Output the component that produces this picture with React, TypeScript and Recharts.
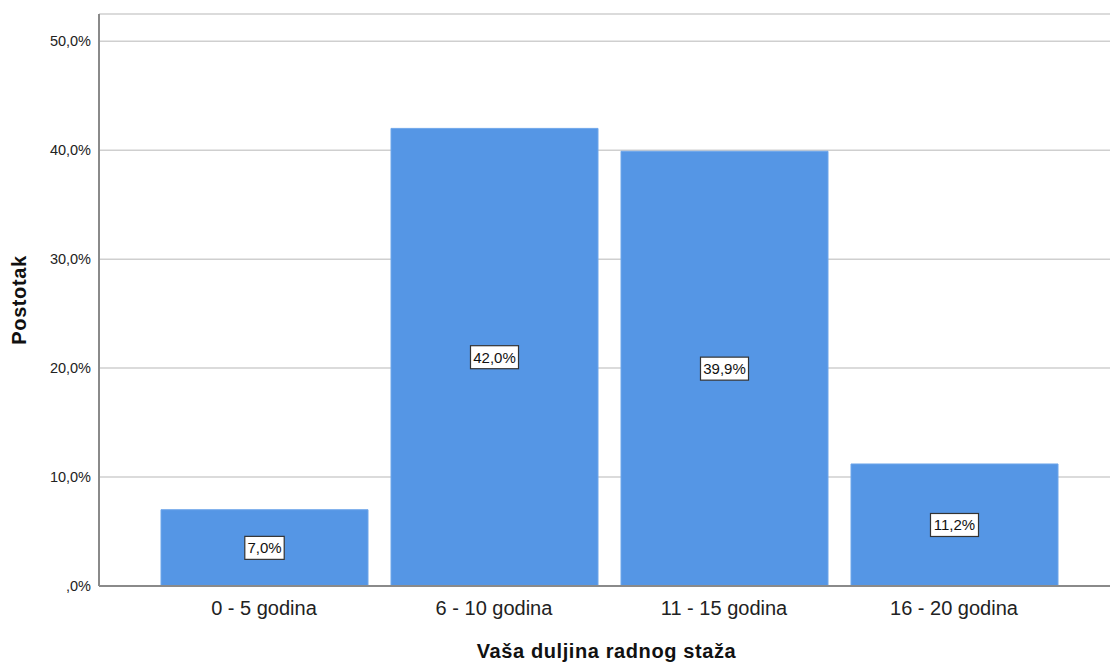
import React from 'react';
import { BarChart, Bar, XAxis, YAxis, CartesianGrid, LabelList } from 'recharts';

// category labels and percentages
const categories = ['0 - 5 godina', '6 - 10 godina', '11 - 15 godina', '16 - 20 godina'];
const percentages = [7.0, 42.0, 39.9, 11.2];
const yTicks = [0, 10, 20, 30, 40, 50];

const FONT = '"Liberation Sans", Arial, sans-serif';
const BAR_COLOR = '#5596e5';

const data = categories.map((name, i) => ({ name, value: percentages[i] }));

const formatPct = (v: number) => (v === 0 ? ',0%' : v.toFixed(1).replace('.', ',') + '%');

const ValueBox = (props: any) => {
    const { x, y, width, height, value } = props;
    const cx = x + width / 2;
    const cy = y + height / 2;
    const text = formatPct(value);
    const w = text.length * 8.6 + 5;
    return (
        <g>
            <rect x={cx - w / 2} y={cy - 11.5} width={w} height={23} fill="#ffffff" stroke="#333333" strokeWidth={1.2} />
            <text x={cx} y={cy + 5.5} textAnchor="middle" fontFamily={FONT} fontSize={15} fill="#111111">
                {text}
            </text>
        </g>
    );
};

const XTitle = (props: any) => {
    const vb = props.viewBox;
    return (
        <text x={vb.x + vb.width / 2 + 2} y={vb.y + 72} textAnchor="middle" fontFamily={FONT} fontSize={20}
            fontWeight="bold" letterSpacing={0.6} fill="#111111">
            Vaša duljina radnog staža
        </text>
    );
};

const YTitle = (props: any) => {
    const vb = props.viewBox;
    const cx = 26;
    const cy = vb.y + vb.height / 2;
    return (
        <text x={cx} y={cy} transform={`rotate(-90, ${cx}, ${cy})`} textAnchor="middle" fontFamily={FONT}
            fontSize={20} fontWeight="bold" letterSpacing={0.6} fill="#111111">
            Postotak
        </text>
    );
};

const App: React.FC = () => {
    return (
        <div style={{ position: 'absolute', left: 0, top: 0, width: 1110, height: 664, background: '#fff' }}>
            <BarChart width={1110} height={664} data={data} margin={{ top: 14, right: 0, bottom: 0, left: 0 }}>
                <CartesianGrid horizontal={true} vertical={false} stroke="#cfcfcf" strokeWidth={1.5} />
                <XAxis
                    dataKey="name"
                    height={78}
                    padding={{ left: 50, right: 41 }}
                    axisLine={{ stroke: '#8a8a8a', strokeWidth: 2 }}
                    tickLine={false}
                    tickSize={0}
                    tickMargin={15}
                    tick={{ fontFamily: FONT, fontSize: 20, fill: '#222222' }}
                    label={<XTitle />}
                />
                <YAxis
                    width={99}
                    domain={[0, 52.5]}
                    ticks={yTicks}
                    tickFormatter={formatPct}
                    axisLine={{ stroke: '#8a8a8a', strokeWidth: 2 }}
                    tickLine={false}
                    tickSize={0}
                    tickMargin={8}
                    tick={{ fontFamily: FONT, fontSize: 14.5, fill: '#222222' }}
                    label={<YTitle />}
                />
                <Bar dataKey="value" fill={BAR_COLOR} stroke="#6ea6ea" strokeWidth={1} barSize={207} isAnimationActive={false}>
                    <LabelList dataKey="value" content={<ValueBox />} />
                </Bar>
            </BarChart>
        </div>
    );
};

export default App;
